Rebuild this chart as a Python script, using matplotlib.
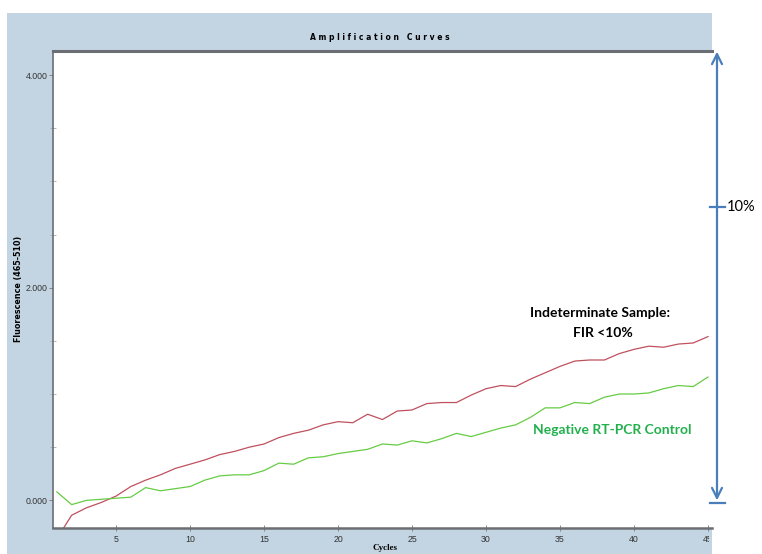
import matplotlib
matplotlib.use("Agg")
import matplotlib.pyplot as plt
from matplotlib.patches import Rectangle
from matplotlib.ticker import MultipleLocator
import matplotlib.transforms as mtransforms

# amplification readings, one per cycle
cycles = list(range(1, 46))
sample = [-0.36, -0.14, -0.07, -0.02, 0.04, 0.13, 0.19, 0.24, 0.30, 0.34,
          0.38, 0.43, 0.46, 0.50, 0.53, 0.59, 0.63, 0.66, 0.71, 0.74,
          0.73, 0.81, 0.76, 0.84, 0.85, 0.91, 0.92, 0.92, 0.99, 1.05,
          1.08, 1.07, 1.14, 1.20, 1.26, 1.31, 1.32, 1.32, 1.38, 1.42,
          1.45, 1.44, 1.47, 1.48, 1.54]
neg_control = [0.08, -0.04, 0.00, 0.01, 0.02, 0.03, 0.12, 0.09, 0.11, 0.13,
               0.19, 0.23, 0.24, 0.24, 0.28, 0.35, 0.34, 0.40, 0.41, 0.44,
               0.46, 0.48, 0.53, 0.52, 0.56, 0.54, 0.58, 0.63, 0.60, 0.64,
               0.68, 0.71, 0.78, 0.87, 0.87, 0.92, 0.91, 0.97, 1.00, 1.00,
               1.01, 1.05, 1.08, 1.07, 1.16]
x_ticks = [5, 10, 15, 20, 25, 30, 35, 40, 45]
y_ticks = [0, 2, 4]
y_ticklabels = ['0.000', '2.000', '4.000']

W, H = 762, 554
fig = plt.figure(figsize=(W / 100, H / 100), dpi=100)

# light blue instrument panel behind the plot
panel = Rectangle((7 / W, 0), (712 - 7) / W, (554 - 13) / H,
                  transform=fig.transFigure, facecolor='#c3d5e3',
                  edgecolor='none', zorder=-5)
fig.patches.append(panel)

ax = fig.add_axes([53 / W, (H - 528) / H, (712 - 53) / W, (528 - 51) / H])
ax.set_zorder(1)
ax.set_facecolor('white')
ax.plot(cycles, sample, color='#c0505e', lw=0.9)
ax.plot(cycles, neg_control, color='#66cc44', lw=0.9)

ax.set_xlim(0.74, 45.27)
ax.set_ylim(-0.26, 4.226)
ax.set_xticks(x_ticks)
ax.set_yticks(y_ticks)
ax.set_yticklabels(y_ticklabels)
ax.yaxis.set_minor_locator(MultipleLocator(0.5))
ax.tick_params(which='major', labelsize=6.3, colors='#777777', length=3,
               width=0.6, labelcolor='#333333', pad=1)
ax.tick_params(axis='x', which='major', direction='inout', length=4, pad=3)
ax.tick_params(axis='y', which='minor', direction='inout', length=4,
               width=0.6, colors='#aaaaaa')

ax.spines['right'].set_visible(False)
ax.spines['top'].set_linewidth(2.2)
ax.spines['top'].set_color('#6b6e72')
ax.spines['left'].set_color('#6b6e72')
ax.spines['left'].set_linewidth(1.2)
ax.spines['bottom'].set_color('#6b6e72')
ax.spines['bottom'].set_linewidth(1.8)

# tick labels in a narrower face; the x labels stop short of the panel edge
label_box = mtransforms.TransformedBbox(
    mtransforms.Bbox.from_extents(0, 0, 709 / W, 1), fig.transFigure)
for tick in ax.xaxis.get_major_ticks():
    tick.label1.set_family('Liberation Sans')
    tick.label1.set_clip_on(True)
    tick.label1.set_clip_box(label_box)
for tick in ax.yaxis.get_major_ticks():
    tick.label1.set_family('Liberation Sans')

fig.text(380 / W, 1 - 38 / H, 'A m p l i f i c a t i o n   C u r v e s',
         ha='center', va='center', fontsize=5.5, fontweight='bold')
fig.text(385 / W, 1 - 548 / H, 'Cycles', ha='center', va='center',
         fontsize=6.5, fontweight='bold', family='Liberation Serif')
fig.text(19 / W, 1 - 289 / H, 'Fluorescence (465-510)', ha='center',
         va='center', rotation=90, fontsize=5.8, fontweight='bold')

# labels for the two curves
ax.text(37.7, 1.76, 'Indeterminate Sample:', ha='center', va='center',
        fontsize=10, fontweight='bold', family='Lato', color='black')
ax.text(37.9, 1.57, 'FIR <10%', ha='center', va='center',
        fontsize=10, fontweight='bold', family='Lato', color='black')
ax.text(38.5, 0.66, 'Negative RT-PCR Control', ha='center', va='center',
        fontsize=10, fontweight='bold', family='Lato', color='#22b04c')

# scale arrow to the right of the plot
blend = mtransforms.blended_transform_factory(fig.transFigure, ax.transData)
arrow_x = 717 / W
ax.annotate('', xy=(arrow_x, 4.22), xycoords=blend,
            xytext=(arrow_x, 0.0), textcoords=blend,
            arrowprops=dict(arrowstyle='<->', color='#4a7ebb', lw=1.6,
                            mutation_scale=18, shrinkA=0, shrinkB=0),
            annotation_clip=False)
fig.add_artist(plt.Line2D([710 / W, 725 / W], [1 - 503 / H, 1 - 503 / H],
                          color='#4a7ebb', lw=1.6))
fig.add_artist(plt.Line2D([710 / W, 725 / W], [1 - 207 / H, 1 - 207 / H],
                          color='#4a7ebb', lw=1.6))
fig.text(727 / W, 1 - 207 / H, '10%', ha='left', va='center', fontsize=10.5,
         family='Lato')

fig.savefig('out.png', dpi=100)
